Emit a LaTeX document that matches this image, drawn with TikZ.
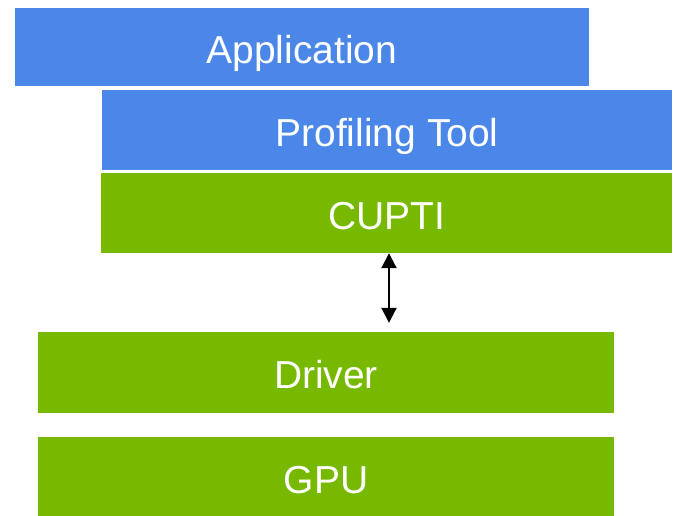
\documentclass[tikz,border=0pt]{standalone}
\usepackage{fontspec}
\setmainfont{Liberation Sans}
\usetikzlibrary{arrows.meta}
\definecolor{appblue}{RGB}{74,135,232}
\definecolor{nvgreen}{RGB}{118,185,0}

\begin{document}
\begin{tikzpicture}[x=1pt,y=-1pt,
	layer/.style={rectangle,inner sep=0pt,text=white,text height=32pt,text depth=0pt,font=\fontsize{39}{40}\selectfont},
	bluelayer/.style={layer,fill=appblue},
	greenlayer/.style={layer,fill=nvgreen}]
		\useasboundingbox (0,0) rectangle (673,515);
		% CUPTI software stack
		\node[bluelayer,minimum width=574pt,minimum height=78pt] (Application) at (302,47) {Application};
		\node[bluelayer,minimum width=570pt,minimum height=80pt] (Tool) at (387,130) {Profiling Tool};
		\node[greenlayer,minimum width=571pt,minimum height=80pt] (CUPTI) at (386.5,213) {CUPTI};
		\node[greenlayer,minimum width=576pt,minimum height=81pt] (Driver) at (326,372.5) {Driver};
		\node[greenlayer,minimum width=576pt,minimum height=80pt] (GPU) at (326,477) {GPU};

		\coordinate (ax) at (389,0);
		\draw[{Triangle[width=15pt,length=15pt]}-{Triangle[width=15pt,length=15pt]},line width=2pt,shorten >=9pt] (CUPTI.south -| ax) to (Driver.north -| ax);
		
		\end{tikzpicture}
\end{document}
